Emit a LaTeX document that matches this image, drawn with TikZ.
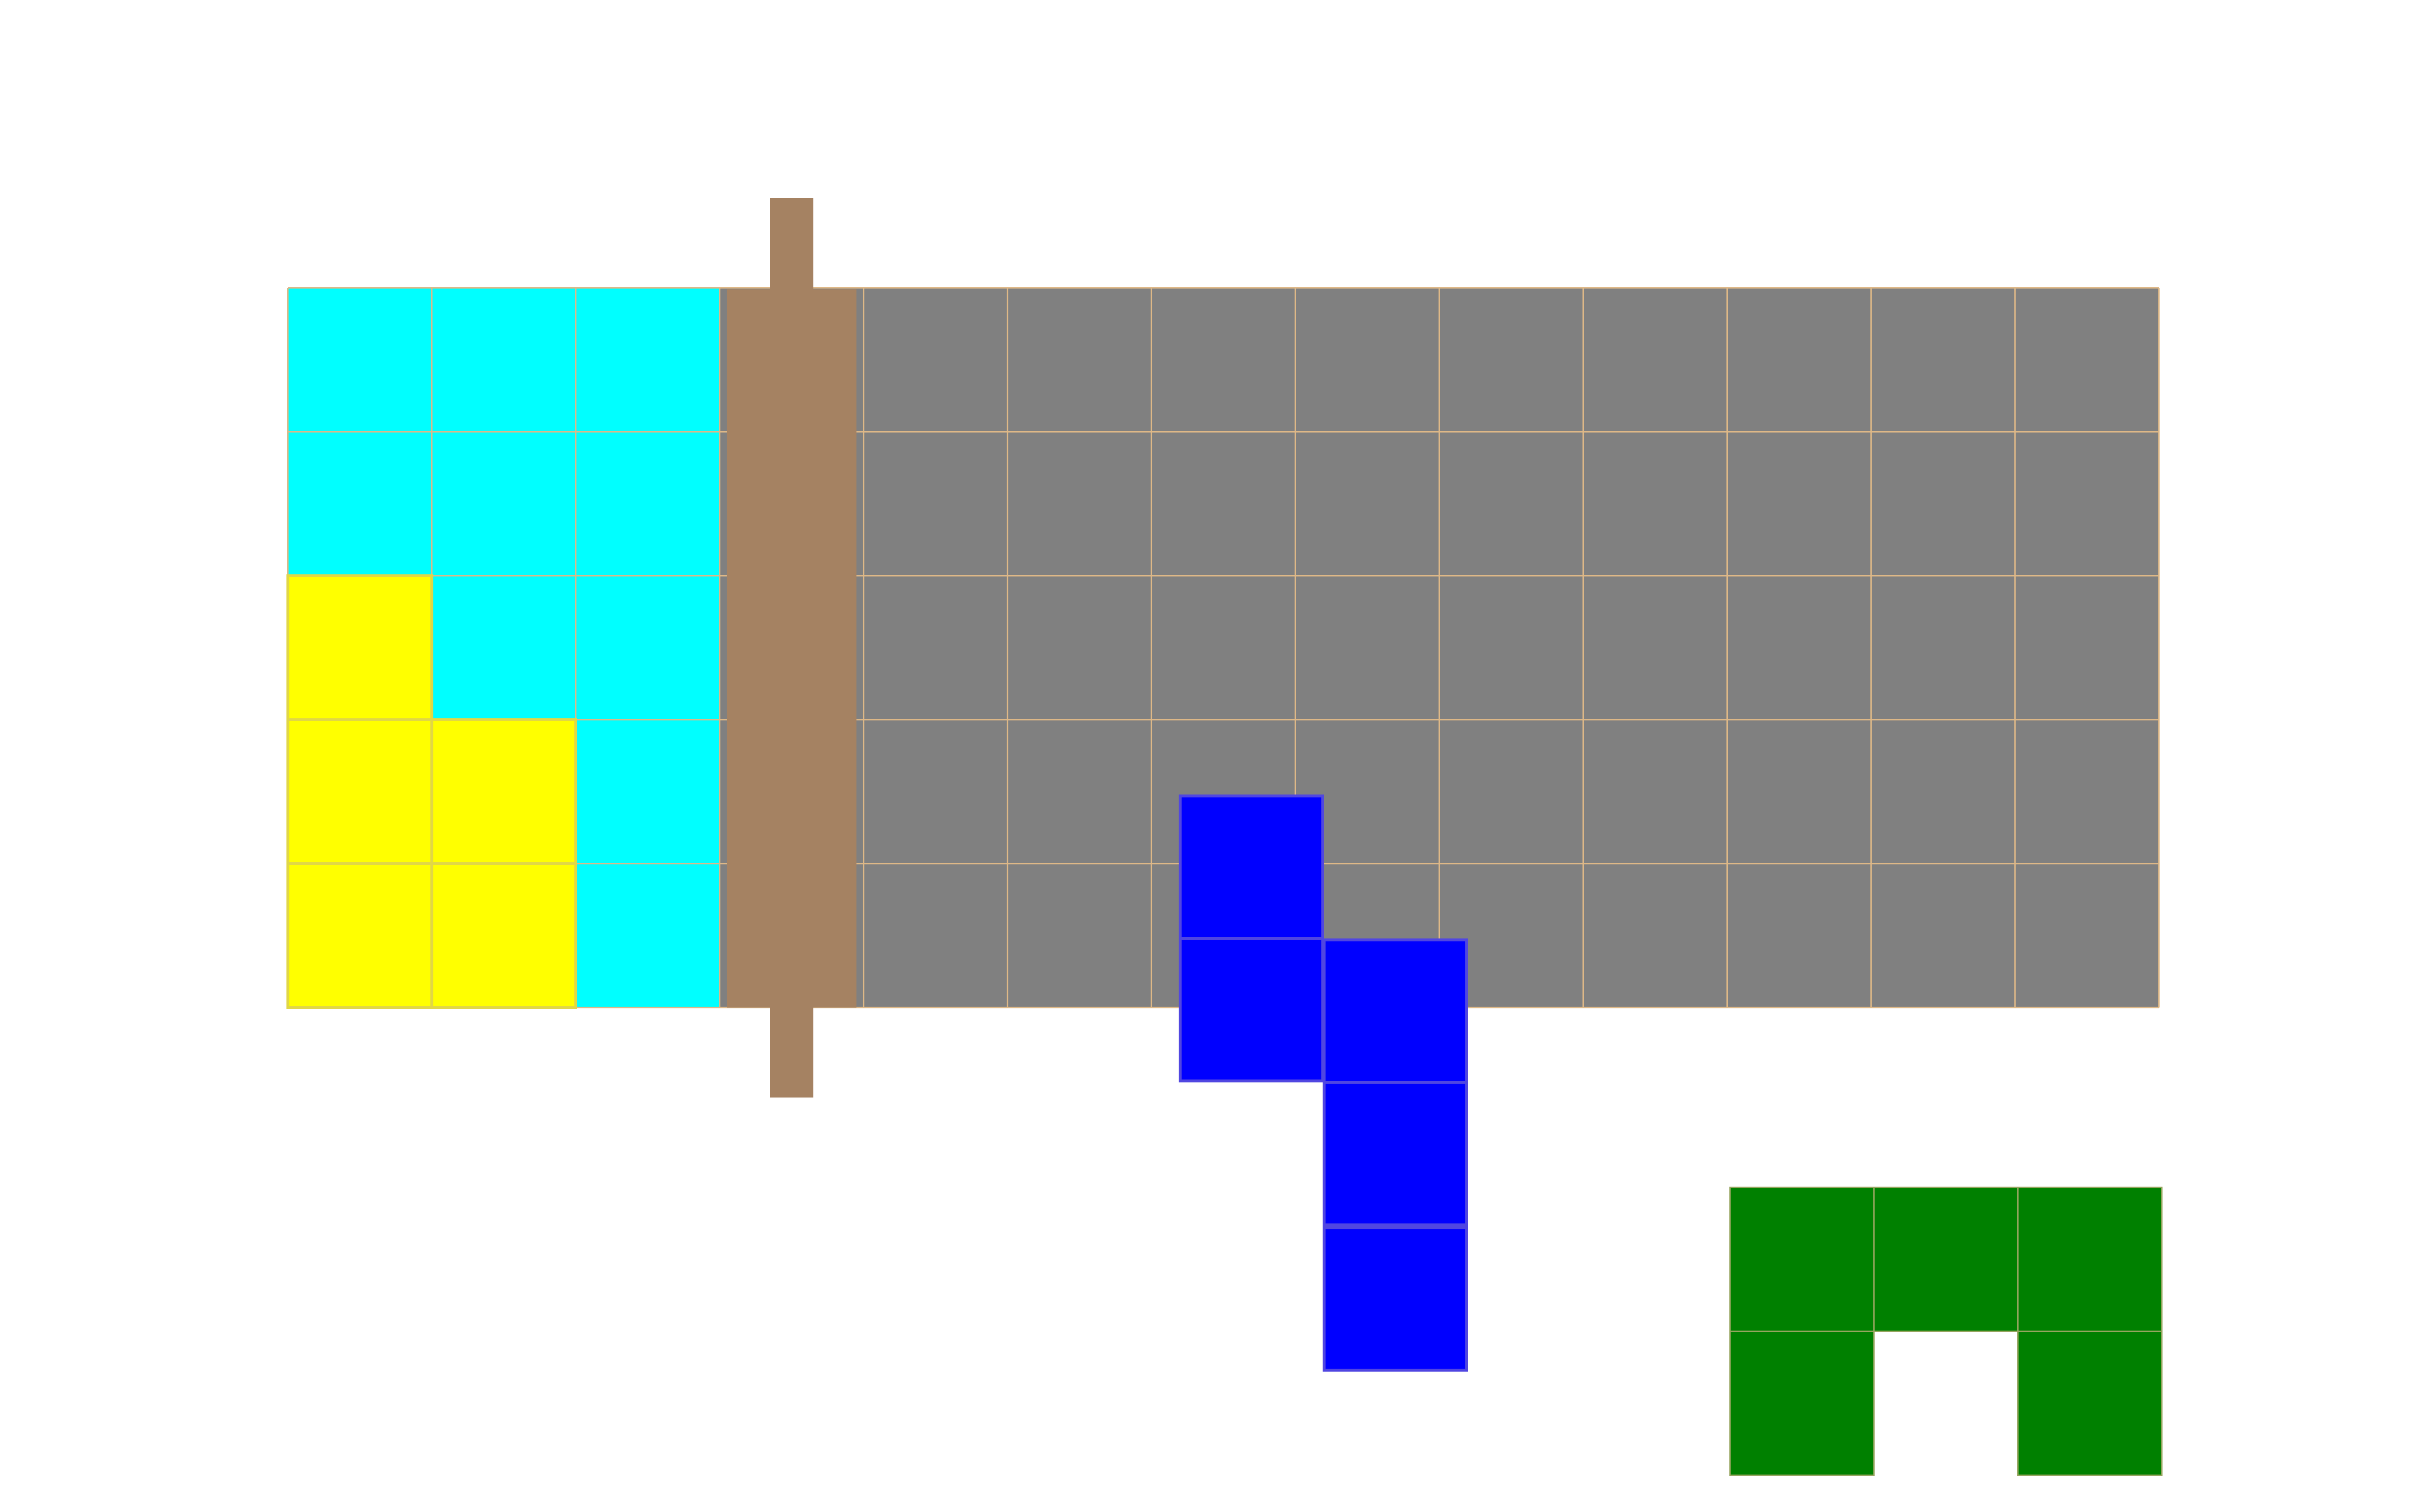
\documentclass[tikz,border=0pt]{standalone}
\usepackage{tikz}
\definecolor{gridtan}{RGB}{222,184,135}
\definecolor{plank}{RGB}{165,130,98}
\definecolor{boardgray}{RGB}{128,128,128}
\definecolor{boardcyan}{RGB}{0,255,255}
\definecolor{pieceyellow}{RGB}{255,255,0}
\definecolor{pieceblue}{RGB}{0,0,255}
\definecolor{piecegreen}{RGB}{0,128,0}
\definecolor{yellowedge}{RGB}{225,215,70}
\definecolor{blueedge}{RGB}{80,70,225}
\definecolor{greenedge}{RGB}{150,165,95}

\begin{document}
\begin{tikzpicture}[x=1cm, y=-1cm]
  \useasboundingbox (0,0) rectangle (16.8,10.5);
  % board and filled columns
  \fill[boardgray] (2,2) rectangle (15,7);
  \fill[boardcyan] (2,2) rectangle (5,7);
  \draw[gridtan, line width=0.4pt] (2,2) grid (15,7);
  \foreach \c/\r in {2/4, 2/5, 3/5, 2/6, 3/6}
    \filldraw[fill=pieceyellow, draw=yellowedge, line width=0.5pt] (\c,\r) rectangle ++(1,1);
  % sliding plank
  \fill[plank] (5.35,1.375) -- (5.65,1.375) -- (5.65,2.01) -- (5.95,2.01) -- (5.95,7) -- (5.65,7)
    -- (5.65,7.625) -- (5.35,7.625) -- (5.35,7) -- (5.05,7) -- (5.05,2.01) -- (5.35,2.01) -- cycle;
  % blue piece
  \foreach \x/\y in {8.2/5.53, 8.2/6.52, 9.2/6.53, 9.2/7.52, 9.2/8.53}
    \filldraw[fill=pieceblue, draw=blueedge, line width=0.5pt] (\x,\y) rectangle ++(0.99,0.99);
  % green piece
  \foreach \x/\y in {12.02/8.25, 13.02/8.25, 14.02/8.25, 12.02/9.25, 14.02/9.25}
    \filldraw[fill=piecegreen, draw=greenedge, line width=0.4pt] (\x,\y) rectangle ++(1,1);
\end{tikzpicture}
\end{document}
